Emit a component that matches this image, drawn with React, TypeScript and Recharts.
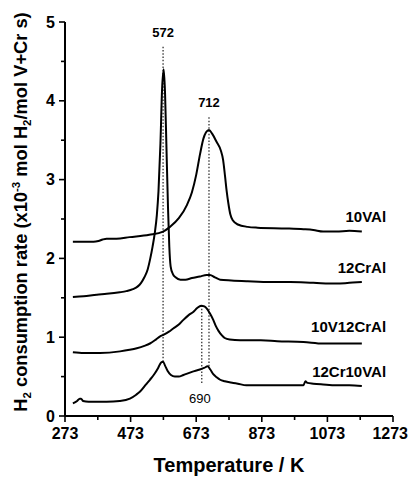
import React from 'react';
import { LineChart, Line, XAxis, YAxis, ReferenceLine, ReferenceDot } from 'recharts';

const FONT = '"Liberation Sans", Arial, Helvetica, sans-serif';

// Temperature (K), H2 consumption rate
const s10VAl: [number, number][] = [
  [297,2.21],[330,2.21],[360,2.21],[375,2.22],[388,2.24],[400,2.25],[430,2.25],[470,2.27],[530,2.30],[572,2.34],[593,2.40],[620,2.51],[645,2.68],[660,2.84],[673,3.06],[685,3.33],[695,3.52],[703,3.60],[712,3.63],[722,3.58],[735,3.48],[748,3.37],[755,3.25],[761,3.04],[766,2.85],[771,2.70],[777,2.56],[785,2.48],[800,2.43],[830,2.40],[860,2.39],[950,2.38],[1000,2.37],[1030,2.36],[1060,2.34],[1100,2.34],[1140,2.35],[1178,2.34],
];
const s12CrAl: [number, number][] = [
  [297,1.51],[330,1.52],[370,1.54],[400,1.55],[440,1.57],[460,1.585],[480,1.61],[495,1.645],[505,1.69],[515,1.76],[525,1.86],[533,2.0],[540,2.15],[547,2.33],[553,2.55],[558,2.85],[564,3.46],[569,4.15],[574,4.40],[578,4.10],[582,3.46],[587,2.65],[591,2.15],[595,1.90],[602,1.80],[610,1.76],[625,1.73],[640,1.73],[660,1.75],[684,1.77],[705,1.79],[715,1.79],[730,1.76],[746,1.73],[780,1.72],[830,1.71],[900,1.70],[960,1.70],[1030,1.69],[1100,1.68],[1140,1.69],[1178,1.70],
];
const s10V12CrAl: [number, number][] = [
  [297,0.81],[330,0.80],[380,0.80],[441,0.82],[470,0.84],[492,0.86],[515,0.89],[532,0.92],[550,0.97],[563,1.01],[573,1.03],[590,1.07],[603,1.11],[620,1.16],[634,1.22],[650,1.28],[664,1.32],[676,1.37],[688,1.40],[698,1.39],[706,1.36],[715,1.30],[725,1.22],[733,1.14],[741,1.08],[750,1.03],[760,0.99],[775,0.97],[807,0.96],[870,0.96],[920,0.95],[1000,0.94],[1060,0.92],[1100,0.92],[1140,0.92],[1178,0.92],
];
const s12Cr10VAl: [number, number][] = [
  [297,0.16],[310,0.19],[318,0.22],[322,0.22],[328,0.19],[345,0.18],[400,0.18],[440,0.19],[471,0.22],[490,0.27],[502,0.31],[520,0.40],[532,0.46],[545,0.53],[557,0.61],[566,0.68],[572,0.69],[578,0.64],[586,0.57],[596,0.52],[608,0.50],[620,0.50],[634,0.52],[660,0.56],[684,0.59],[697,0.61],[708,0.63],[716,0.59],[725,0.53],[736,0.49],[746,0.46],[760,0.44],[786,0.42],[800,0.41],[826,0.39],[900,0.39],[960,0.39],[1000,0.39],[1006,0.44],[1012,0.42],[1030,0.41],[1060,0.40],[1100,0.39],[1140,0.39],[1178,0.38],
];

const seriesNames = ['10VAl', '12CrAl', '10V12CrAl', '12Cr10VAl'];
const seriesData = [s10VAl, s12CrAl, s10V12CrAl, s12Cr10VAl];
// label anchor (temperature, value) for each series name
const seriesLabelX = 1252;
const seriesLabelY = [2.53, 1.88, 1.13, 0.56];

// dotted peak markers: temperature, lower value, upper value
const markerT = [572, 712, 690];
const markerLow = [0.69, 0.63, 0.42];
const markerHigh = [4.70, 3.81, 1.40];
const markerText = ['572', '712', '690'];

const xTicks = [273, 373, 473, 573, 673, 773, 873, 973, 1073, 1173, 1273];
const yTicks = [0, 0.5, 1, 1.5, 2, 2.5, 3, 3.5, 4, 4.5, 5];

const toRows = (s: [number, number][]) => s.map(([x, y]) => ({ x, y }));

const XTick = (props: any) => {
  const { x, y, payload } = props;
  const v = payload.value;
  const major = (v - 273) % 200 === 0;
  const last = v === 1273;
  return (
    <g>
      <line x1={x} x2={x} y1={y} y2={y + (major ? 6 : 4)} stroke="#000" strokeWidth={1.6} />
      {major && (
        <text x={last ? x + 15 : x} y={y + 23} textAnchor={last ? 'end' : 'middle'} fontFamily={FONT} fontWeight="bold" fontSize={16} fill="#000">
          {v}
        </text>
      )}
    </g>
  );
};

const YTick = (props: any) => {
  const { x, y, payload } = props;
  const v = payload.value;
  const major = Number.isInteger(v);
  return (
    <g>
      <line x1={x - (major ? 6 : 4)} x2={x} y1={y} y2={y} stroke="#000" strokeWidth={1.6} />
      {major && (
        <text x={x - 10} y={y + 5.5} textAnchor="end" fontFamily={FONT} fontWeight="bold" fontSize={16} fill="#000">
          {v}
        </text>
      )}
    </g>
  );
};

const XTitle = (props: any) => {
  const vb = props.viewBox;
  return (
    <text x={vb.x + vb.width / 2} y={vb.y + 56} textAnchor="middle" fontFamily={FONT} fontWeight="bold" fontSize={20} fill="#000">
      Temperature / K
    </text>
  );
};

const YTitle = (props: any) => {
  const vb = props.viewBox;
  const cx = vb.x + 12;
  const cy = vb.y + vb.height / 2 - 7;
  return (
    <text x={cx} y={cy} transform={`rotate(-90, ${cx}, ${cy})`} textAnchor="middle" fontFamily={FONT} fontWeight="bold" fontSize={18.3} fill="#000">
      <tspan>H</tspan>
      <tspan fontSize={11.5} dy={4}>2</tspan>
      <tspan dy={-4}> consumption rate (x10</tspan>
      <tspan fontSize={11.5} dy={-7}>-3</tspan>
      <tspan dy={7}> mol H</tspan>
      <tspan fontSize={11.5} dy={4}>2</tspan>
      <tspan dy={-4}>/mol V+Cr s)</tspan>
    </text>
  );
};

const makeLabel = (text: string, dx: number, dy: number, anchor: string, size: number, weight: string) =>
  (props: any) => {
    const vb = props.viewBox;
    const cx = vb.x + (vb.width || 0) / 2;
    const cy = vb.y + (vb.height || 0) / 2;
    return (
      <text x={cx + dx} y={cy + dy} textAnchor={anchor} fontFamily={FONT} fontWeight={weight} fontSize={size} fill="#000">
        {text}
      </text>
    );
  };

export default function App() {
  return (
    <div style={{ position: 'absolute', left: 0, top: 0, width: 409, height: 477, background: '#fff' }}>
      <LineChart width={409} height={477} margin={{ top: 22, right: 16, bottom: 31, left: 15 }}>
        <XAxis
          dataKey="x"
          type="number"
          domain={[273, 1273]}
          ticks={xTicks}
          interval={0}
          allowDataOverflow
          height={30}
          tickSize={0}
          tickMargin={0}
          tickLine={false}
          tick={<XTick />}
          axisLine={{ stroke: '#000', strokeWidth: 2 }}
          label={<XTitle />}
        />
        <YAxis
          type="number"
          domain={[0, 5]}
          ticks={yTicks}
          interval={0}
          allowDataOverflow
          width={50}
          tickSize={0}
          tickMargin={0}
          tickLine={false}
          tick={<YTick />}
          axisLine={{ stroke: '#000', strokeWidth: 2 }}
          label={<YTitle />}
        />
        {markerT.map((t, i) => (
          <ReferenceLine
            key={'m' + i}
            segment={[{ x: t, y: markerLow[i] }, { x: t, y: markerHigh[i] }]}
            stroke="#222"
            strokeWidth={1.2}
            strokeDasharray="1.5 1.8"
            ifOverflow="visible"
          />
        ))}
        {seriesData.map((s, i) => (
          <Line
            key={seriesNames[i]}
            data={toRows(s)}
            dataKey="y"
            type="monotone"
            stroke="#000"
            strokeWidth={2}
            dot={false}
            activeDot={false}
            isAnimationActive={false}
          />
        ))}
        <ReferenceDot x={markerT[0]} y={markerHigh[0]} r={1} fill="none" stroke="none" ifOverflow="visible"
          label={makeLabel(markerText[0], 0, -9, 'middle', 13, 'bold')} />
        <ReferenceDot x={markerT[1]} y={markerHigh[1]} r={1} fill="none" stroke="none" ifOverflow="visible"
          label={makeLabel(markerText[1], 0, -9, 'middle', 13, 'bold')} />
        <ReferenceDot x={markerT[2]} y={markerLow[2]} r={1} fill="none" stroke="none" ifOverflow="visible"
          label={makeLabel(markerText[2], -2, 20, 'middle', 13, 'normal')} />
        {seriesNames.map((n, i) => (
          <ReferenceDot key={'l' + n} x={seriesLabelX} y={seriesLabelY[i]} r={1} fill="none" stroke="none" ifOverflow="visible"
            label={makeLabel(n, 0, 5, 'end', 15, 'bold')} />
        ))}
      </LineChart>
    </div>
  );
}
